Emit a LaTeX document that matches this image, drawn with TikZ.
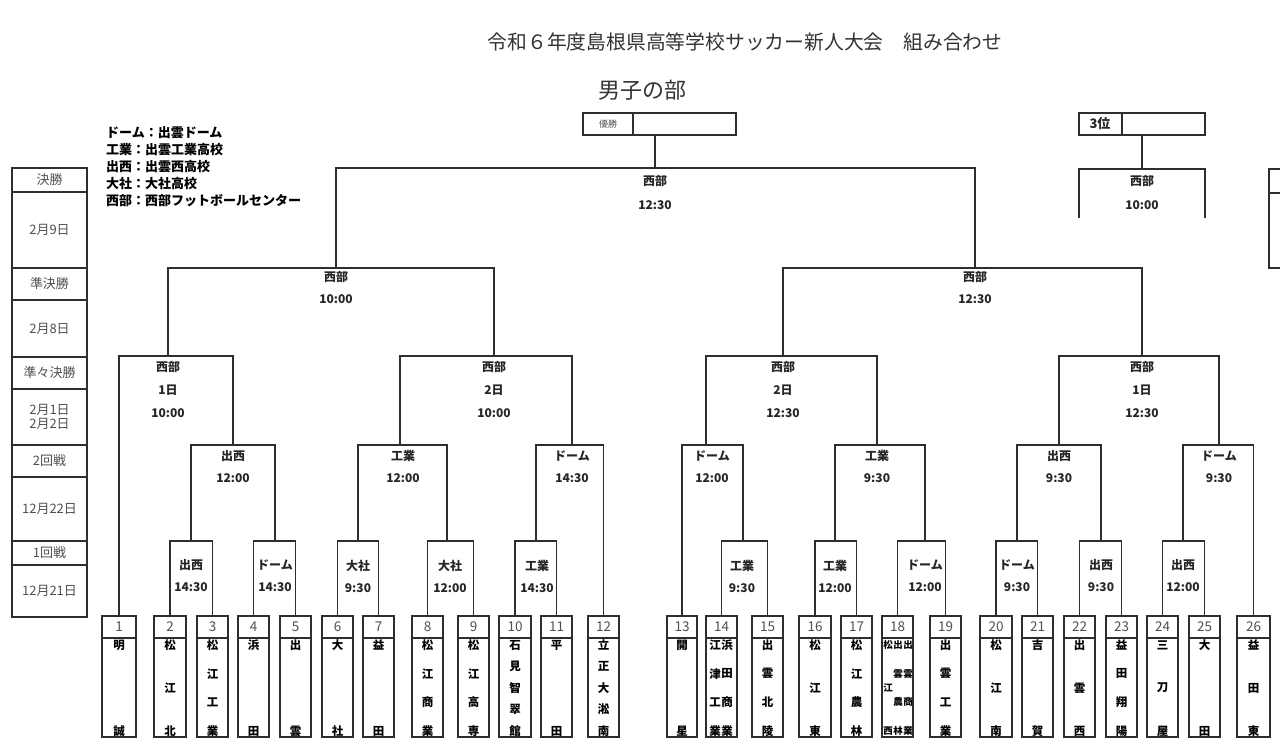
\documentclass[tikz,border=0pt]{standalone}
\usepackage{fontspec}
\setmainfont{Noto Sans CJK JP}
\definecolor{lncol}{HTML}{2E2E2E}
\definecolor{gtxt}{HTML}{505050}
\tikzset{
  ln/.style={draw=lncol, line width=1.6pt},
  tbox/.style={draw=lncol, line width=1.6pt, minimum height=121pt, inner sep=0pt, anchor=center},
  numtxt/.style={font=\fontsize{13.5}{14}\selectfont, text=gtxt, inner sep=0pt},
  chtxt/.style={font=\fontsize{11.5}{12}\selectfont\bfseries, text=black, inner sep=0pt},
  lb/.style={font=\fontsize{12}{22}\selectfont\bfseries, text=black!85, align=center, inner sep=0pt},
  lbq/.style={font=\fontsize{12}{23}\selectfont\bfseries, text=black!85, align=center, inner sep=0pt},
  lbf/.style={font=\fontsize{12}{24}\selectfont\bfseries, text=black!85, align=center, inner sep=0pt},
  sch/.style={font=\fontsize{13}{15}\selectfont, text=gtxt, align=center, inner sep=0pt},
  leg/.style={font=\fontsize{13}{15}\selectfont\bfseries, text=black, anchor=west, inner sep=0pt},
}
\newcommand\tnm[5]{%
  \foreach \c [count=\i] in {#4} {%
    \pgfmathsetmacro\yy{645+(\i-1)*86/(#3-1)}%
    \node[chtxt,#5] (ch#1-\i) at (#2,\yy) {\c};
  }}
\begin{document}
\begin{tikzpicture}[x=1pt,y=-1pt]
\fill[white] (0,0) rectangle (1280,754);
\path[use as bounding box] (0,0) rectangle (1280,754);

% titles
\node[font=\fontsize{19.8}{22}\selectfont, text=black!80] (title) at (745,42) {令和６年度島根県高等学校サッカー新人大会　組み合わせ};
\node[font=\fontsize{22}{24}\selectfont, text=black!80] (boys) at (642,90) {男子の部};

% legend
\node[leg] (lg1) at (106,133) {ドーム：出雲ドーム};
\node[leg] (lg2) at (106,150) {工業：出雲工業高校};
\node[leg] (lg3) at (106,167) {出西：出雲西高校};
\node[leg] (lg4) at (106,184) {大社：大社高校};
\node[leg] (lg5) at (106,201) {西部：西部フットボールセンター};

% schedule column
\draw[ln, line width=1.3pt] (12,168) rectangle (87,617);
\foreach \yy in {192,268,300,357,389,445,477,541,565} {\draw[ln, line width=1.3pt] (12,\yy) -- (87,\yy);}
\node[sch] (s1) at (49.5,180) {決勝};
\node[sch] (s2) at (49.5,230) {2月9日};
\node[sch] (s3) at (49.5,284) {準決勝};
\node[sch] (s4) at (49.5,328.5) {2月8日};
\node[sch] (s5) at (49.5,373) {準々決勝};
\node[sch] (s6) at (49.5,417) {2月1日\\[-1pt]2月2日};
\node[sch] (s7) at (49.5,461) {2回戦};
\node[sch] (s8) at (49.5,509) {12月22日};
\node[sch] (s9) at (49.5,553) {1回戦};
\node[sch] (s10) at (49.5,591) {12月21日};

% partial box at right edge
\draw[ln, line width=1.3pt] (1295,169) -- (1269,169) -- (1269,268) -- (1295,268);
\draw[ln, line width=1.3pt] (1269,193) -- (1295,193);

% team boxes
\foreach \n/\a/\b in {1/102/136,2/154/186,3/197/228,4/238/269,5/280/311,6/322/353,7/363/394,8/412/443,9/458/489,10/499/531,11/541/572,12/588/619,13/667/697,14/706/737,15/752/783,16/799/831,17/841/872,18/882/913,19/930/961,20/980/1012,21/1022/1053,22/1064/1095,23/1106/1137,24/1147/1178,25/1189/1220,26/1237/1270} {
  \pgfmathsetmacro\cx{(\a+\b)/2}
  \pgfmathsetmacro\w{\b-\a}
  \node[tbox, minimum width=\w pt] (t\n) at (\cx,676.5) {};
  \draw[ln] (\a,638) -- (\b,638);
  \node[numtxt] (num\n) at (\cx,627) {\n};
}

% team names
\tnm{1}{119}{2}{明,誠}{}
\tnm{2}{170}{3}{松,江,北}{}
\tnm{3}{212.5}{4}{松,江,工,業}{}
\tnm{4}{253.5}{2}{浜,田}{}
\tnm{5}{295.5}{2}{出,雲}{}
\tnm{6}{337.5}{2}{大,社}{}
\tnm{7}{378.5}{2}{益,田}{}
\tnm{8}{427.5}{4}{松,江,商,業}{}
\tnm{9}{473.5}{4}{松,江,高,専}{}
\tnm{10}{515}{5}{石,見,智,翠,館}{}
\tnm{11}{556.5}{2}{平,田}{}
\tnm{12}{603.5}{5}{立,正,大,淞,南}{}
\tnm{13}{682}{2}{開,星}{}
\tnm{14a}{715}{4}{江,津,工,業}{}
\tnm{14b}{727}{4}{浜,田,商,業}{}
\tnm{15}{767.5}{4}{出,雲,北,陵}{}
\tnm{16}{815}{3}{松,江,東}{}
\tnm{17}{856.5}{4}{松,江,農,林}{}
\tnm{18a}{888}{3}{松,江,西}{font=\fontsize{9.5}{10}\selectfont\bfseries}
\tnm{18b}{898}{4}{出,雲,農,林}{font=\fontsize{9.5}{10}\selectfont\bfseries}
\tnm{18c}{908}{4}{出,雲,商,業}{font=\fontsize{9.5}{10}\selectfont\bfseries}
\tnm{19}{945.5}{4}{出,雲,工,業}{}
\tnm{20}{996}{3}{松,江,南}{}
\tnm{21}{1037.5}{2}{吉,賀}{}
\tnm{22}{1079.5}{3}{出,雲,西}{}
\tnm{23}{1121.5}{4}{益,田,翔,陽}{}
\tnm{24}{1162.5}{3}{三,刀,屋}{}
\tnm{25}{1204.5}{2}{大,田}{}
\tnm{26}{1253.5}{3}{益,田,東}{}

% match junctions
\coordinate (m23) at (191,541);
\coordinate (m45) at (275,541);
\coordinate (m2345) at (233,445);
\coordinate (mQ1) at (168,356);
\coordinate (m67) at (358,541);
\coordinate (m89) at (447,541);
\coordinate (m6789) at (400,445);
\coordinate (m1011) at (536,541);
\coordinate (m101112) at (572,445);
\coordinate (mQ2) at (494,356);
\coordinate (mS1) at (336,268);
\coordinate (m1415) at (743,541);
\coordinate (m131415) at (706,445);
\coordinate (m1617) at (835,541);
\coordinate (m1819) at (925,541);
\coordinate (m16171819) at (877,445);
\coordinate (mQ3) at (783,356);
\coordinate (m2021) at (1017,541);
\coordinate (m2223) at (1101,541);
\coordinate (m20212223) at (1059,445);
\coordinate (m2425) at (1183,541);
\coordinate (m242526) at (1219,445);
\coordinate (mQ4) at (1142,356);
\coordinate (mS2) at (975,268);
\coordinate (mF) at (655,168);

% brackets
\draw[ln] (t2.north) |- (m23) -| (t3.north);
\draw[ln] (t4.north) |- (m45) -| (t5.north);
\draw[ln] (m23) |- (m2345) -| (m45);
\draw[ln] (t1.north) |- (mQ1) -| (m2345);
\draw[ln] (t6.north) |- (m67) -| (t7.north);
\draw[ln] (t8.north) |- (m89) -| (t9.north);
\draw[ln] (m67) |- (m6789) -| (m89);
\draw[ln] (t10.north) |- (m1011) -| (t11.north);
\draw[ln] (m1011) |- (m101112) -| (t12.north);
\draw[ln] (m6789) |- (mQ2) -| (m101112);
\draw[ln] (mQ1) |- (mS1) -| (mQ2);
\draw[ln] (t14.north) |- (m1415) -| (t15.north);
\draw[ln] (t13.north) |- (m131415) -| (m1415);
\draw[ln] (t16.north) |- (m1617) -| (t17.north);
\draw[ln] (t18.north) |- (m1819) -| (t19.north);
\draw[ln] (m1617) |- (m16171819) -| (m1819);
\draw[ln] (m131415) |- (mQ3) -| (m16171819);
\draw[ln] (t20.north) |- (m2021) -| (t21.north);
\draw[ln] (t22.north) |- (m2223) -| (t23.north);
\draw[ln] (m2021) |- (m20212223) -| (m2223);
\draw[ln] (t24.north) |- (m2425) -| (t25.north);
\draw[ln] (m2425) |- (m242526) -| (t26.north);
\draw[ln] (m20212223) |- (mQ4) -| (m242526);
\draw[ln] (mQ3) |- (mS2) -| (mQ4);
\draw[ln] (mS1) |- (mF) -| (mS2);

% winner box
\node[draw=lncol, line width=1.6pt, minimum width=153pt, minimum height=22pt, inner sep=0pt] (win) at (659.5,124) {};
\draw[ln] (633,113) -- (633,135);
\node[font=\fontsize{9}{10}\selectfont, text=gtxt, inner sep=0pt] (winlbl) at (608,124) {優勝};
\draw[ln] (mF) -- (mF |- win.south);

% third place
\node[draw=lncol, line width=1.6pt, minimum width=126pt, minimum height=22pt, inner sep=0pt] (third) at (1142,124) {};
\draw[ln] (1122,113) -- (1122,135);
\node[font=\fontsize{13}{14}\selectfont\bfseries, text=black!85, inner sep=0pt] (thirdlbl) at (1100,124) {3位};
\coordinate (m3) at (1142,169);
\coordinate (c3a) at (1079,218);
\coordinate (c3b) at (1205,218);
\draw[ln] (c3a) |- (m3) -| (c3b);
\draw[ln] (m3) -- (m3 |- third.south);

% labels
\node[lb] (l23) at (191,576) {出西\\14:30};
\node[lb] (l45) at (275,576) {ドーム\\14:30};
\node[lb] (l67) at (358,576) {大社\\9:30};
\node[lb] (l89) at (450,576) {大社\\12:00};
\node[lb] (l1011) at (537,576) {工業\\14:30};
\node[lb] (l1415) at (742,576) {工業\\9:30};
\node[lb] (l1617) at (835,576) {工業\\12:00};
\node[lb] (l1819) at (925,576) {ドーム\\12:00};
\node[lb] (l2021) at (1017,576) {ドーム\\9:30};
\node[lb] (l2223) at (1101,576) {出西\\9:30};
\node[lb] (l2425) at (1183,576) {出西\\12:00};

\node[lb] (l2345) at (233,466.5) {出西\\12:00};
\node[lb] (l6789) at (403,466.5) {工業\\12:00};
\node[lb] (l101112) at (572,466.5) {ドーム\\14:30};
\node[lb] (l131415) at (712,466.5) {ドーム\\12:00};
\node[lb] (l16171819) at (877,466.5) {工業\\9:30};
\node[lb] (l20212223) at (1059,466.5) {出西\\9:30};
\node[lb] (l242526) at (1219,466.5) {ドーム\\9:30};

\node[lbq] (lQ1) at (168,390) {西部\\1日\\10:00};
\node[lbq] (lQ2) at (494,390) {西部\\2日\\10:00};
\node[lbq] (lQ3) at (783,390) {西部\\2日\\12:30};
\node[lbq] (lQ4) at (1142,390) {西部\\1日\\12:30};

\node[lb] (lS1) at (336,288) {西部\\10:00};
\node[lb] (lS2) at (975,288) {西部\\12:30};
\node[lbf] (lF) at (655,193) {西部\\12:30};
\node[lbf] (l3) at (1142,193) {西部\\10:00};
\end{tikzpicture}
\end{document}
